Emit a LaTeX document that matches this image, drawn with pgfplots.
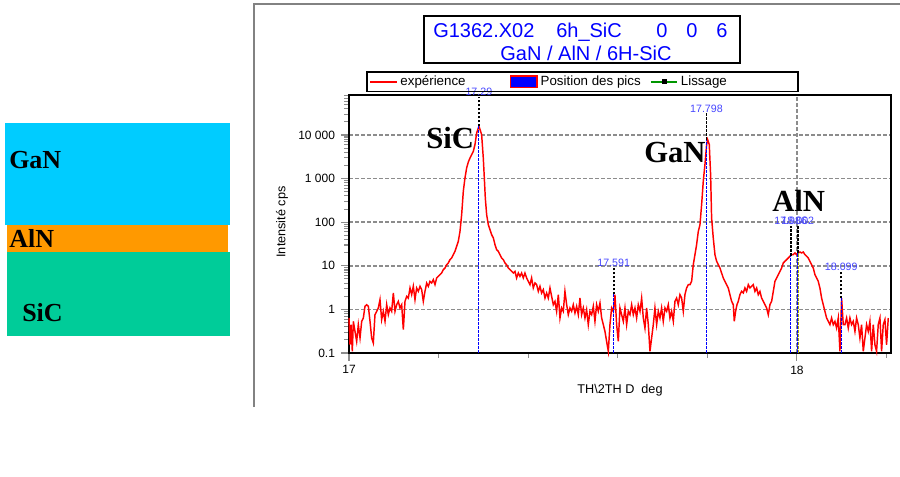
\documentclass[border=0pt]{standalone}
\usepackage{pgfplots}
\pgfplotsset{compat=1.18}
\usepackage{pgfplotstable}
\usepackage{fontspec}
\setmainfont{Liberation Sans}
\newfontfamily\timesfont{Liberation Serif}

\definecolor{layercyan}{RGB}{0,204,255}
\definecolor{layerorange}{RGB}{255,153,0}
\definecolor{layergreen}{RGB}{0,204,153}
\definecolor{framegray}{RGB}{130,130,130}
\definecolor{gridgray}{RGB}{140,140,140}
\definecolor{peakblue}{RGB}{70,70,255}
\definecolor{titleblue}{RGB}{0,0,255}
\definecolor{lissgreen}{RGB}{0,150,0}
\definecolor{olivefit}{RGB}{170,170,0}

% 2theta (deg) vs intensity (cps)
\pgfplotstableread{
x y
17.0000 0.635
17.0022 0.155
17.0045 0.447
17.0074 0.109
17.0097 0.532
17.0134 0.314
17.0171 0.185
17.0208 0.447
17.0246 0.221
17.0283 0.532
17.0320 0.635
17.0357 1.18
17.0394 1.28
17.0432 1.18
17.0469 0.532
17.0506 0.221
17.0543 0.170
17.0580 0.757
17.0618 0.903
17.0655 1.08
17.0692 1.67
17.0729 0.582
17.0766 0.903
17.0804 0.532
17.0841 1.28
17.0878 0.757
17.0915 1.08
17.0952 0.903
17.0990 2.38
17.1027 0.903
17.1064 1.28
17.1101 1.53
17.1138 1.08
17.1176 1.28
17.1213 0.343
17.1250 1.53
17.1287 1.99
17.1324 1.82
17.1362 3.10
17.1399 2.18
17.1436 3.38
17.1473 1.67
17.1510 3.10
17.1548 2.59
17.1585 3.38
17.1622 2.84
17.1659 1.53
17.1696 2.59
17.1734 4.03
17.1771 3.38
17.1808 4.40
17.1845 4.03
17.1882 4.81
17.1920 3.69
17.1957 5.25
17.1994 5.73
17.2031 6.26
17.2068 6.84
17.2106 8.15
17.2143 8.91
17.2180 10.6
17.2217 11.6
17.2254 13.8
17.2292 15.1
17.2329 18.0
17.2366 21.5
17.2403 27.9
17.2440 36.4
17.2478 61.7
17.2515 149
17.2552 511
17.2589 1030
17.2626 1750
17.2664 2400
17.2701 2970
17.2738 3540
17.2775 4220
17.2812 6000
17.2850 11100
17.2887 14500
17.2902 15800
17.2961 10200
17.2998 2970
17.3021 1030
17.3043 359
17.3073 149
17.3110 87.7
17.3147 67.4
17.3184 51.8
17.3222 43.4
17.3259 30.5
17.3296 23.4
17.3333 21.5
17.3370 18.0
17.3408 15.1
17.3445 13.8
17.3482 11.6
17.3519 10.6
17.3556 8.91
17.3594 8.15
17.3631 7.46
17.3668 6.84
17.3705 7.46
17.3742 5.25
17.3780 6.84
17.3817 5.73
17.3854 6.84
17.3891 5.25
17.3928 6.84
17.3966 5.25
17.4003 4.40
17.4040 3.69
17.4077 5.25
17.4114 3.10
17.4152 4.03
17.4189 3.69
17.4226 2.59
17.4263 3.38
17.4300 2.38
17.4338 2.84
17.4375 1.82
17.4412 2.38
17.4449 1.82
17.4487 3.10
17.4524 1.99
17.4561 1.28
17.4598 1.53
17.4635 0.903
17.4673 2.18
17.4710 0.635
17.4747 1.08
17.4784 0.903
17.4821 2.59
17.4859 1.28
17.4896 0.757
17.4933 1.08
17.4970 0.903
17.5007 1.28
17.5045 0.827
17.5082 1.18
17.5119 0.757
17.5156 1.82
17.5193 0.757
17.5231 1.08
17.5268 0.635
17.5305 0.986
17.5342 0.447
17.5379 0.903
17.5417 0.757
17.5454 1.18
17.5491 0.532
17.5528 1.28
17.5565 0.903
17.5603 1.40
17.5640 0.635
17.5677 0.447
17.5714 0.314
17.5751 0.185
17.5789 0.109
17.5826 0.447
17.5863 1.08
17.5900 0.903
17.5937 2.18
17.5975 0.447
17.6012 0.185
17.6049 1.08
17.6086 0.757
17.6124 0.532
17.6161 1.08
17.6198 0.447
17.6235 0.903
17.6272 0.757
17.6310 1.28
17.6347 0.757
17.6384 1.08
17.6421 0.635
17.6458 1.28
17.6496 0.903
17.6533 1.82
17.6570 0.635
17.6607 0.374
17.6644 1.08
17.6682 0.447
17.6719 0.109
17.6756 0.221
17.6793 0.447
17.6830 1.08
17.6868 0.447
17.6905 0.903
17.6942 0.635
17.6979 1.08
17.7016 0.532
17.7054 1.08
17.7091 0.903
17.7128 1.28
17.7165 0.635
17.7202 0.903
17.7240 0.532
17.7277 1.53
17.7314 1.82
17.7351 1.28
17.7388 2.18
17.7426 1.82
17.7463 0.903
17.7500 2.18
17.7537 3.10
17.7574 3.69
17.7612 3.69
17.7649 4.40
17.7686 10.6
17.7723 18.0
17.7760 30.5
17.7798 61.7
17.7835 87.7
17.7872 252
17.7909 865
17.7946 2090
17.7984 6000
17.8006 7820
17.8043 6000
17.8073 1230
17.8095 125
17.8132 43.4
17.8170 18.0
17.8207 12.7
17.8244 10.6
17.8281 8.91
17.8318 6.84
17.8356 5.25
17.8393 4.40
17.8430 3.69
17.8467 3.10
17.8504 2.18
17.8542 1.53
17.8579 1.28
17.8601 0.532
17.8631 0.903
17.8661 1.28
17.8690 1.53
17.8728 2.18
17.8765 2.59
17.8802 2.38
17.8839 3.10
17.8876 2.59
17.8914 3.69
17.8951 3.10
17.9025 3.69
17.9063 2.59
17.9100 3.10
17.9137 2.18
17.9174 2.59
17.9211 1.82
17.9249 1.53
17.9286 1.28
17.9323 1.08
17.9360 0.757
17.9397 1.28
17.9435 1.53
17.9472 2.59
17.9509 4.40
17.9546 5.25
17.9583 6.26
17.9621 7.46
17.9658 8.91
17.9695 11.6
17.9732 12.7
17.9769 13.8
17.9807 15.1
17.9844 16.5
17.9881 18.0
17.9918 18.0
17.9955 19.7
17.9993 18.0
18.0030 19.7
18.0067 20.7
18.0104 19.7
18.0141 20.7
18.0179 18.0
18.0216 16.5
18.0253 15.1
18.0290 12.7
18.0327 10.6
18.0365 8.91
18.0402 6.26
18.0439 5.25
18.0476 4.40
18.0513 3.10
18.0551 1.82
18.0588 1.28
18.0625 0.903
18.0662 0.635
18.0699 0.532
18.0737 0.447
18.0774 0.635
18.0811 0.447
18.0848 0.532
18.0885 0.374
18.0923 0.635
18.0960 0.109
18.0997 1.82
18.1034 0.447
18.1071 0.447
18.1109 0.635
18.1146 0.374
18.1183 0.635
18.1220 0.447
18.1257 0.532
18.1295 0.314
18.1332 0.635
18.1369 0.447
18.1406 0.221
18.1443 0.447
18.1481 0.109
18.1518 0.221
18.1555 0.447
18.1592 0.314
18.1629 0.532
18.1667 0.109
18.1704 0.447
18.1741 0.155
18.1778 0.109
18.1815 0.447
18.1853 0.635
18.1890 0.109
18.1927 0.447
18.1964 0.582
18.2001 0.155
18.2039 0.635
}\scan

\tikzset{
  peaklab/.style={font=\fontsize{8}{9}\selectfont, text=peakblue, inner sep=0.6pt, anchor=south},
  posline/.style={blue, line width=0.7pt, dash pattern=on 2pt off 1pt},
  tipline/.style={black, line width=1.3pt, dash pattern=on 2pt off 1pt},
  bigbold/.style={anchor=base west, inner sep=0, font=\timesfont\bfseries\fontsize{23}{26}\selectfont},
  layerlab/.style={anchor=base west, inner sep=0, font=\timesfont\bfseries\fontsize{19.5}{22}\selectfont},
}

\begin{document}
\begin{tikzpicture}
\begin{scope}[x=0.75pt,y=-0.75pt]
  \useasboundingbox (0,0) rectangle (900,477);
  % layer stack on the left
  \fill[layercyan] (5,123) rectangle (230,225);
  \fill[layerorange] (7,225) rectangle (228,252);
  \fill[layergreen] (7,252) rectangle (230,336);
  \node[layerlab] at (9,169) {GaN};
  \node[layerlab] at (9,248) {AlN};
  \node[layerlab] at (22,322) {SiC};
  % window frame
  \draw[framegray, line width=2pt] (254,407) -- (254,4) -- (902,4);
  % title box
  \draw[black, line width=1.2pt] (424,16) rectangle (740,63);
  \begin{scope}[every node/.style={anchor=base west, inner sep=0, text=titleblue, font=\fontsize{15}{17}\selectfont}]
    \node at (433,38) {G1362.X02};
    \node at (556,38) {6h\_SiC};
    \node at (656,38) {0};
    \node at (686,38) {0};
    \node at (716,38) {6};
  \end{scope}
  \node[anchor=base, inner sep=0, text=titleblue, font=\fontsize{15}{17}\selectfont] at (586,61) {GaN / AlN / 6H-SiC};
\end{scope}

\begin{axis}[
    at={(261.75pt,-264.75pt)}, anchor=south west,
    scale only axis, width=406.5pt, height=193.5pt,
    xmin=17, xmax=18.21,
    ymode=log, ymin=0.1, ymax=82600,
    xtick={17,18}, xticklabels={17,18},
    minor xtick={17.2,17.4,17.6,17.8,18.2},
    ytick={0.1,1,10,100,1000,10000},
    yticklabels={0.1,1,10,100,1 000,10 000},
    minor ytick={0.2,0.3,0.4,0.5,0.6,0.7,0.8,0.9,2,3,4,5,6,7,8,9,20,30,40,50,60,70,80,90,200,300,400,500,600,700,800,900,2000,3000,4000,5000,6000,7000,8000,9000,20000,30000,40000,50000,60000,70000,80000},
    tick pos=left, tick align=outside,
    major tick length=6pt, minor tick length=3.5pt,
    every tick/.style={gridgray, line width=0.8pt},
    xmajorgrids, ymajorgrids,
    major grid style={gridgray, line width=1.1pt, dash pattern=on 3pt off 1.5pt},
    axis line style={black, line width=1.5pt},
    ticklabel style={font=\fontsize{9}{10}\selectfont},
    yticklabel style={xshift=-1pt},
    clip=false,
    legend columns=3,
    legend cell align=left,
    legend style={at={(0.0314,1.093)}, anchor=north west, draw=black, line width=1.2pt,
      fill=none, inner xsep=2pt, inner ysep=1pt, font=\fontsize{10}{11.5}\selectfont,
      /tikz/every even column/.append style={column sep=0pt}},
]
  \addplot[red, line width=1.1pt, forget plot] table[x=x, y=y] {\scan};

  % peak positions
  \addplot[posline, forget plot] coordinates {(17.29,0.1) (17.29,15800)};
  \addplot[tipline, forget plot] coordinates {(17.29,15800) (17.29,74500)};
  \addplot[posline, forget plot] coordinates {(17.591,0.1) (17.591,2.2)};
  \addplot[tipline, forget plot] coordinates {(17.591,2.2) (17.591,8.9)};
  \addplot[posline, forget plot] coordinates {(17.798,0.1) (17.798,7800)};
  \addplot[tipline, forget plot] coordinates {(17.798,7800) (17.798,31600)};
  \addplot[posline, forget plot] coordinates {(17.986,0.1) (17.986,17)};
  \addplot[tipline, forget plot] coordinates {(17.986,17) (17.986,82)};
  \addplot[olivefit, line width=0.8pt, dash pattern=on 2pt off 1pt, forget plot] coordinates {(18.004,0.1) (18.004,20)};
  \addplot[posline, forget plot] coordinates {(18.002,0.1) (18.002,20)};
  \addplot[tipline, forget plot] coordinates {(18.002,20) (18.002,80)};
  \addplot[posline, forget plot] coordinates {(18.099,0.1) (18.099,1.8)};
  \addplot[tipline, forget plot] coordinates {(18.099,1.8) (18.099,7.5)};

  \node[peaklab] at (axis cs:17.29,74500) {17.29};
  \node[peaklab] at (axis cs:17.591,8.9) {17.591};
  \node[peaklab] at (axis cs:17.798,31600) {17.798};
  \node[peaklab] at (axis cs:17.986,84) {17.986};
  \node[peaklab] at (axis cs:18.002,84) {18.002};
  \node[peaklab] at (axis cs:18.099,7.5) {18.099};

  \addlegendimage{legend image code/.code={\draw[draw=red, line width=1.2pt] (0pt,0pt) -- (20pt,0pt);}}
  \addlegendentry{\makebox[80pt][l]{expérience}}
  \addlegendimage{legend image code/.code={\draw[draw=red, fill=blue, line width=1.2pt] (0pt,-4.3pt) rectangle (20pt,4.3pt);}}
  \addlegendentry{\makebox[80pt][l]{Position des pics}}
  \addlegendimage{legend image code/.code={\draw[draw=lissgreen, line width=1.2pt] (0pt,0pt) -- (20pt,0pt); \fill[fill=black] (8.8pt,-1.3pt) rectangle (11.2pt,1.3pt);}}
  \addlegendentry{\makebox[84pt][l]{Lissage}}
\end{axis}

\begin{scope}[x=0.75pt,y=-0.75pt]
  \node[bigbold] at (426,149) {SiC};
  \node[bigbold] at (644,163) {GaN};
  \node[bigbold] at (772,212) {AlN};
  \node[rotate=90, inner sep=0, font=\fontsize{9.5}{11}\selectfont] at (282,222) {Intensité cps};
  \node[inner sep=0, font=\fontsize{9.5}{11}\selectfont] at (620,390) {TH\textbackslash2TH D\ \ deg};
\end{scope}
\end{tikzpicture}
\end{document}
